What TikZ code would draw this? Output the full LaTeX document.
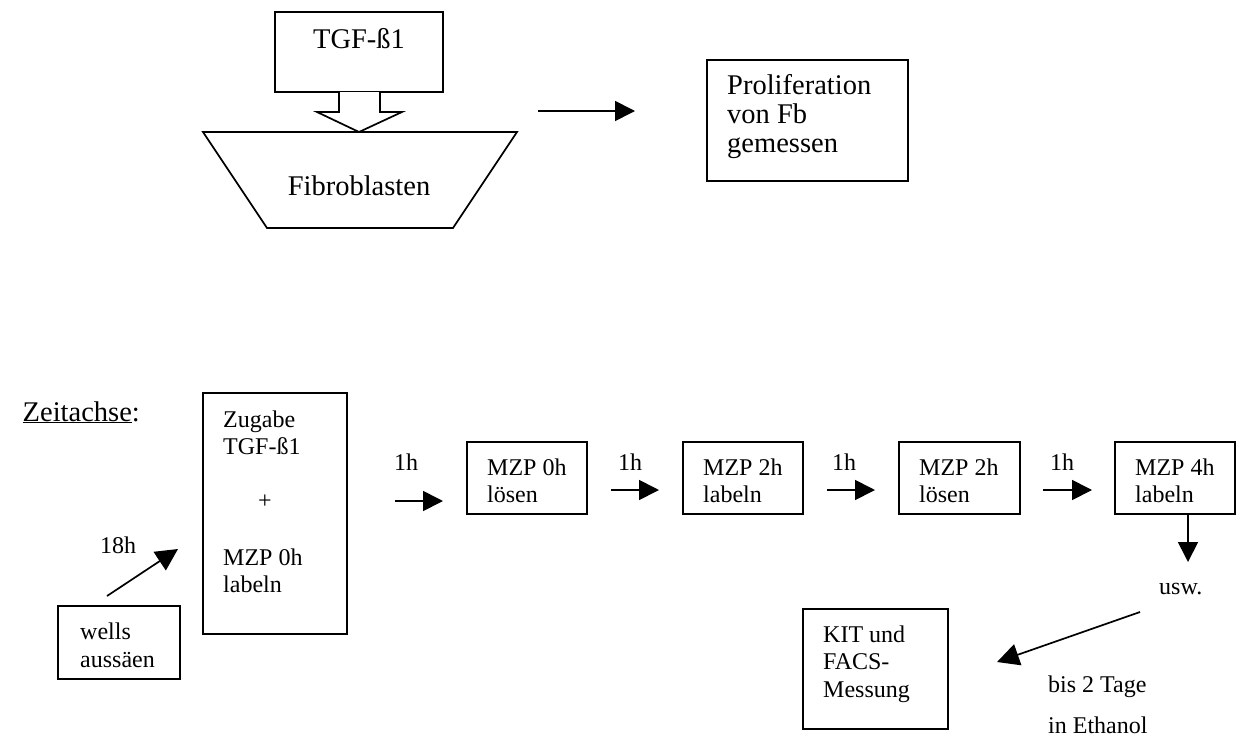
\documentclass[tikz,border=0pt]{standalone}
\usepackage{fontspec}
\setmainfont{Liberation Serif}
\usetikzlibrary{arrows.meta}
\begin{document}
\begin{tikzpicture}[x=1pt,y=-1pt,
  box/.style={draw,line width=1.7pt,inner sep=0pt},
  big/.style={font=\fontsize{28.5}{33}\selectfont,inner sep=0pt},
  txt/.style={font=\fontsize{24}{27}\selectfont,inner sep=0pt,anchor=base west},
  arr/.style={line width=1.7pt,-{Triangle[length=20pt,width=20pt]}},
]
\useasboundingbox (0,0) rectangle (1236,736);
% ---------- top part ----------
\node[box,minimum width=168,minimum height=80] (tgf) at (359,52) {};
\node[big,anchor=base] (tgft) at (359,48) {TGF-ß1};
\draw[line width=1.7pt,line join=miter,fill=white]
  (339,92) -- (339,112) -- (317,112) -- (359,132) -- (402,112) -- (380,112) -- (380,92);
\draw[line width=1.7pt,line join=miter] (203,132) -- (517,132) -- (453,228) -- (267,228) -- cycle;
\node[big,anchor=base] (fib) at (359,195) {Fibroblasten};
\coordinate (a0s) at (538,111);
\coordinate (a0e) at (635,111);
\draw[arr] (a0s) -- (a0e);
\node[box,minimum width=201,minimum height=121] (prol) at (807.5,120.5) {};
\node[big,anchor=base west] (prolt1) at (727,94) {Proliferation};
\node[big,anchor=base west] (prolt2) at (727,123) {von Fb};
\node[big,anchor=base west] (prolt3) at (727,152) {gemessen};
% ---------- time axis ----------
\node[big,anchor=base east] (zeit) at (140,421) {\underline{Zeitachse}:};
\node[box,minimum width=122,minimum height=73] (wells) at (119,642.5) {};
\node[txt] (wt1) at (80,639) {wells};
\node[txt] (wt2) at (80,667) {aussäen};
\node[txt] (h18) at (100,553) {18h};
\coordinate (d0s) at (107,596);
\coordinate (d0e) at (178,549);
\draw[arr,-{Triangle[length=22pt,width=22pt]}] (d0s) -- (d0e);
\node[box,minimum width=144,minimum height=241] (zug) at (275,513.5) {};
\node[txt] (zt1) at (223,427) {Zugabe};
\node[txt] (zt2) at (223,454) {TGF-ß1};
\node[txt,anchor=base] (zt3) at (265,508) {+};
\node[txt] (zt4) at (223,565) {MZP 0h};
\node[txt] (zt5) at (223,592) {labeln};
% MZP boxes
\node[box,minimum width=120,minimum height=72] (m1) at (527,478) {};
\node[box,minimum width=120,minimum height=72] (m2) at (743,478) {};
\node[box,minimum width=121,minimum height=72] (m3) at (959.5,478) {};
\node[box,minimum width=120,minimum height=72] (m4) at (1175,478) {};
\node[txt] (m1a) at (487,475) {MZP 0h};
\node[txt] (m1b) at (487,502) {lösen};
\node[txt] (m2a) at (703,475) {MZP 2h};
\node[txt] (m2b) at (703,502) {labeln};
\node[txt] (m3a) at (919,475) {MZP 2h};
\node[txt] (m3b) at (919,502) {lösen};
\node[txt] (m4a) at (1135,475) {MZP 4h};
\node[txt] (m4b) at (1135,502) {labeln};
% 1h arrows
\node[txt] (h1) at (394,470) {1h};
\node[txt] (h2) at (618,470) {1h};
\node[txt] (h3) at (832,470) {1h};
\node[txt] (h4) at (1050,470) {1h};
\coordinate (r1s) at (395,501); \coordinate (r1e) at (443,501);
\coordinate (r2s) at (611,490); \coordinate (r2e) at (659,490);
\coordinate (r3s) at (827,490); \coordinate (r3e) at (875,490);
\coordinate (r4s) at (1043,490); \coordinate (r4e) at (1092,490);
\draw[arr] (r1s) -- (r1e);
\draw[arr] (r2s) -- (r2e);
\draw[arr] (r3s) -- (r3e);
\draw[arr] (r4s) -- (r4e);
% down arrow and usw.
\coordinate (dn) at (1188,562);
\draw[arr] (m4.south -| dn) -- (dn);
\node[txt] (usw) at (1159,594) {usw.};
% KIT box
\coordinate (k0s) at (1140,612);
\coordinate (k0e) at (997,662);
\draw[arr,-{Triangle[length=22pt,width=22pt]}] (k0s) -- (k0e);
\node[box,minimum width=145,minimum height=120] (kit) at (875.5,669) {};
\node[txt] (k1) at (823,642) {KIT und};
\node[txt] (k2) at (823,669) {FACS-};
\node[txt] (k3) at (823,697) {Messung};
\node[txt] (b1) at (1048,692) {bis 2 Tage};
\node[txt] (b2) at (1048,733) {in Ethanol};
\end{tikzpicture}
\end{document}
